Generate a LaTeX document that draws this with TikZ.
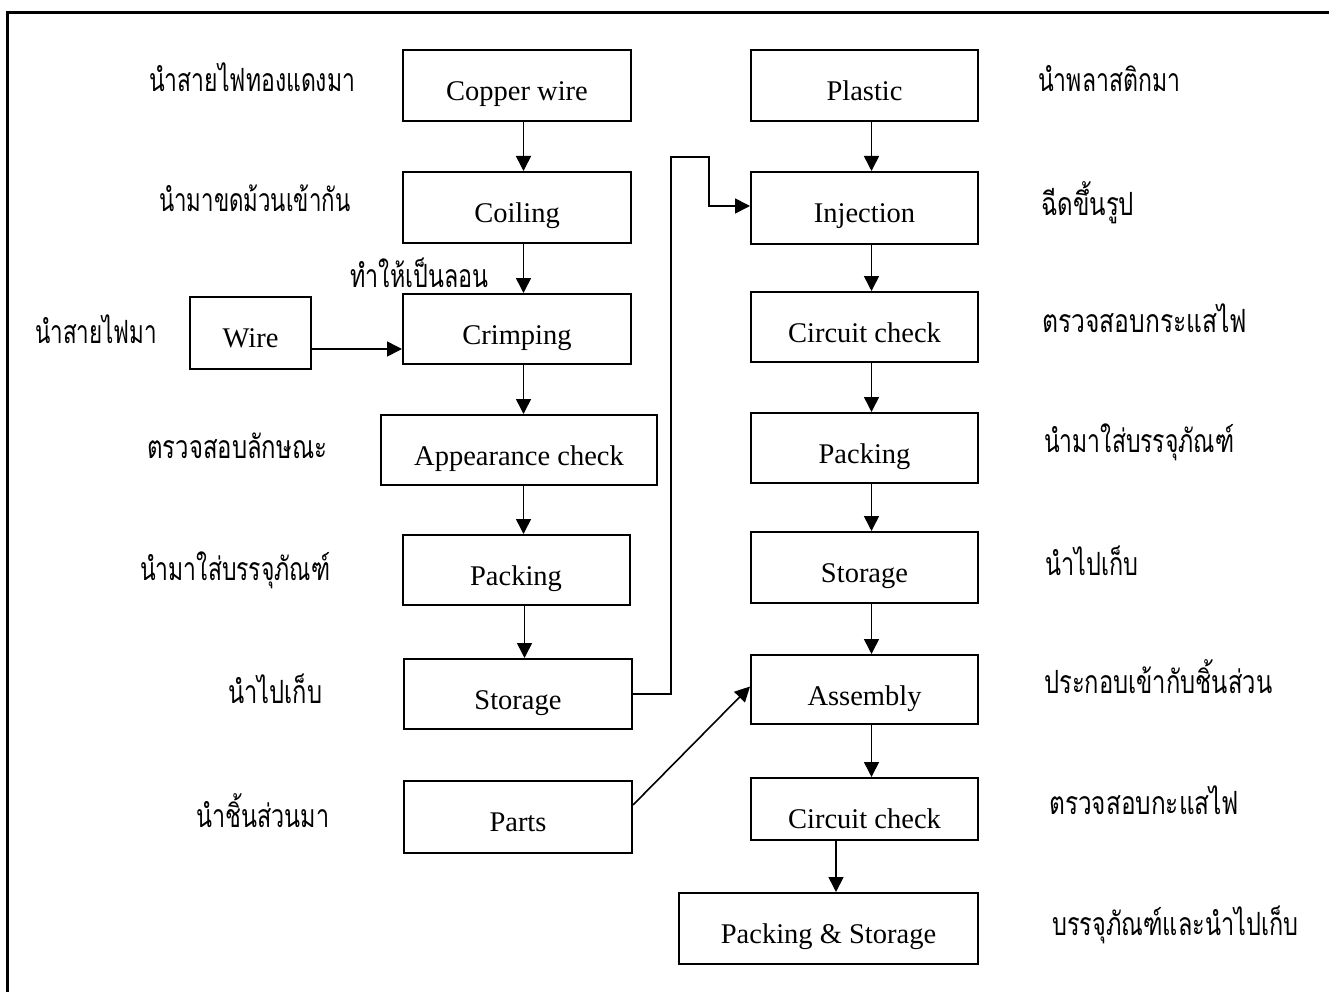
\documentclass[tikz,border=0pt]{standalone}
\usepackage{fontspec}
\usepackage{graphicx}
\setmainfont{Liberation Serif}
\newfontfamily\thaifont[Script=Thai]{Loma}
\usetikzlibrary{arrows.meta}
% Thai caption squeezed to a given width (in pt), height kept
\newcommand\thl[2]{\resizebox{#1pt}{\height}{\thaifont\fontsize{32}{38}\selectfont #2}}
\tikzset{
  stepbox/.style={draw, line width=2pt, inner sep=0pt, text depth=0pt,
    font=\fontsize{28.5}{34}\selectfont},
  thai/.style={anchor=base west, inner sep=0pt},
  flow/.style={line width=1.6pt, -{Triangle[length=15pt,width=15pt]}},
}
\begin{document}
\begin{tikzpicture}[x=1pt,y=-1pt]
\useasboundingbox (0,0) rectangle (1329,992);
% frame
\draw[line width=3pt] (7,992) -- (7,13) -- (1329,13);

% left column
\node[stepbox, minimum width=228pt, minimum height=71pt, text height=30pt] (copper) at (517,85.5) {Copper wire};
\node[stepbox, minimum width=228pt, minimum height=71pt, text height=30pt] (coil) at (517,207.5) {Coiling};
\node[stepbox, minimum width=228pt, minimum height=70pt, text height=31pt] (crimp) at (517,329) {Crimping};
\node[stepbox, minimum width=121pt, minimum height=72pt, text height=29pt] (wire) at (250.5,333) {Wire};
\node[stepbox, minimum width=276pt, minimum height=70pt, text height=31pt] (appear) at (519,450) {Appearance check};
\node[stepbox, minimum width=227pt, minimum height=70pt, text height=31pt] (packL) at (516,570) {Packing};
\node[stepbox, minimum width=228pt, minimum height=70pt, text height=31pt] (storL) at (518,694) {Storage};
\node[stepbox, minimum width=228pt, minimum height=72pt, text height=29pt] (parts) at (518,817) {Parts};

% right column
\node[stepbox, minimum width=227pt, minimum height=71pt, text height=30pt] (plastic) at (864.5,86) {Plastic};
\node[stepbox, minimum width=227pt, minimum height=72pt, text height=29pt] (inj) at (864.5,208) {Injection};
\node[stepbox, minimum width=227pt, minimum height=70pt, text height=31pt] (cc1) at (864.5,327) {Circuit check};
\node[stepbox, minimum width=227pt, minimum height=70pt, text height=31pt] (packR) at (864.5,448) {Packing};
\node[stepbox, minimum width=227pt, minimum height=71pt, text height=30pt] (storR) at (864.5,567.5) {Storage};
\node[stepbox, minimum width=227pt, minimum height=69pt, text height=32pt] (asm) at (864.5,689.5) {Assembly};
\node[stepbox, minimum width=227pt, minimum height=62pt, text height=39pt] (cc2) at (864.5,809) {Circuit check};
\node[stepbox, minimum width=299pt, minimum height=71pt, text height=30pt] (ps) at (828.5,928.5) {Packing \& Storage};

% Thai captions, left side
\node[thai] (l1) at (149,92) {\thl{206}{นำสายไฟทองแดงมา}};
\node[thai] (l2) at (159,212) {\thl{191}{นำมาขดม้วนเข้ากัน}};
\node[thai] (l3) at (350,287) {\thl{138}{ทำให้เป็นลอน}};
\node[thai] (l4) at (35,343) {\thl{122}{นำสายไฟมา}};
\node[thai] (l5) at (147,458) {\thl{180}{ตรวจสอบลักษณะ}};
\node[thai] (l6) at (140,580) {\thl{190}{นำมาใส่บรรจุภัณฑ์}};
\node[thai] (l7) at (228,703) {\thl{94}{นำไปเก็บ}};
\node[thai] (l8) at (196,827) {\thl{133}{นำชิ้นส่วนมา}};

% Thai captions, right side
\node[thai] (r1) at (1038,92) {\thl{142}{นำพลาสติกมา}};
\node[thai] (r2) at (1041,215) {\thl{93}{ฉีดขึ้นรูป}};
\node[thai] (r3) at (1042,332) {\thl{205}{ตรวจสอบกระแสไฟ}};
\node[thai] (r4) at (1044,452) {\thl{190}{นำมาใส่บรรจุภัณฑ์}};
\node[thai] (r5) at (1045,575) {\thl{93}{นำไปเก็บ}};
\node[thai] (r6) at (1044,693) {\thl{228}{ประกอบเข้ากับชิ้นส่วน}};
\node[thai] (r7) at (1049,814) {\thl{190}{ตรวจสอบกะแสไฟ}};
\node[thai] (r8) at (1052,935) {\thl{246}{บรรจุภัณฑ์และนำไปเก็บ}};

% connectors, left column
\draw[flow] ([xshift=6.5pt]copper.south) -- ([xshift=6.5pt]coil.north);
\draw[flow] ([xshift=6.5pt]coil.south) -- ([xshift=6.5pt]crimp.north);
\draw[flow] ([xshift=6.5pt]crimp.south) -- ([xshift=4.5pt]appear.north);
\draw[flow] ([xshift=4.5pt]appear.south) -- ([xshift=7.5pt]packL.north);
\draw[flow] ([xshift=8.5pt]packL.south) -- ([xshift=6.5pt]storL.north);
\draw[flow] ([yshift=-16pt]wire.east) -- ([yshift=-16pt]wire.east -| crimp.west);

% connectors, right column
\draw[flow] ([xshift=7pt]plastic.south) -- ([xshift=7pt]inj.north);
\draw[flow] ([xshift=7pt]inj.south) -- ([xshift=7pt]cc1.north);
\draw[flow] ([xshift=7pt]cc1.south) -- ([xshift=7pt]packR.north);
\draw[flow] ([xshift=7pt]packR.south) -- ([xshift=7pt]storR.north);
\draw[flow] ([xshift=7pt]storR.south) -- ([xshift=7pt]asm.north);
\draw[flow] ([xshift=7pt]asm.south) -- ([xshift=7pt]cc2.north);
\draw[flow] ([xshift=-28.5pt]cc2.south) -- ([xshift=7.5pt]ps.north);

% storage to injection, and parts to assembly
\coordinate (j1) at (671,157);
\coordinate (j2) at (709,157);
\draw[flow] (storL.east) -| (j1) -- (j2) |- ([yshift=2pt]inj.west);
\draw[flow] ([yshift=12pt]parts.east) -- ([yshift=3pt]asm.west);
\end{tikzpicture}
\end{document}
